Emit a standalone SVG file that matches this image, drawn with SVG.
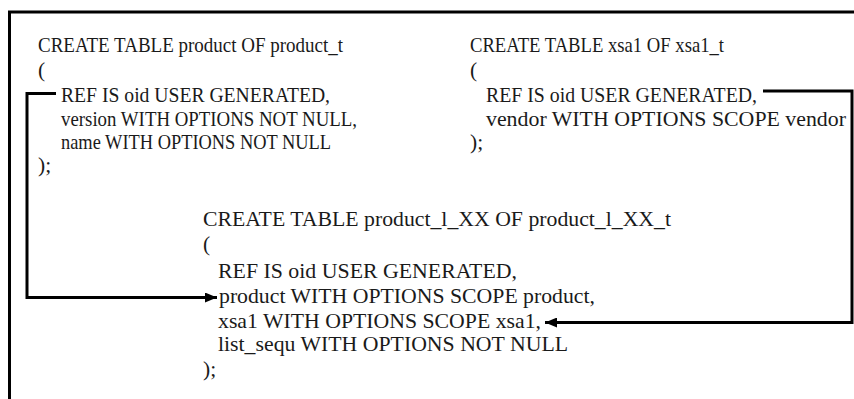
<svg xmlns="http://www.w3.org/2000/svg" width="854" height="399" viewBox="0 0 854 399">
  <style>
    text { font-family: "Liberation Serif", "Times New Roman", serif; font-size: 21.5px; fill: #1a1a1a; }
    .frame { fill: none; stroke: #000; stroke-width: 3; }
    .link { fill: none; stroke: #000; stroke-width: 3; }
  </style>
  <defs>
    <marker id="arrow" viewBox="0 0 12 10" refX="12" refY="5" markerWidth="12" markerHeight="10" markerUnits="userSpaceOnUse" orient="auto">
      <path d="M0,0 L12,5 L0,10 Z" fill="#000"/>
    </marker>
  </defs>
  <rect width="854" height="399" fill="#fff"/>
  <!-- outer frame: top and left edges -->
  <path class="frame" d="M9.5,399 V12 H854"/>

  <g id="product">
    <text x="38" y="52" textLength="305" lengthAdjust="spacingAndGlyphs">CREATE TABLE product OF product_t</text>
    <text x="38" y="77">(</text>
    <text x="61" y="102" textLength="269" lengthAdjust="spacingAndGlyphs">REF IS oid USER GENERATED,</text>
    <text x="61" y="126" textLength="296" lengthAdjust="spacingAndGlyphs">version WITH OPTIONS NOT NULL,</text>
    <text x="61" y="149" textLength="270" lengthAdjust="spacingAndGlyphs">name WITH OPTIONS NOT NULL</text>
    <text x="38" y="172">);</text>
  </g>

  <g id="xsa1">
    <text x="470" y="52" textLength="254" lengthAdjust="spacingAndGlyphs">CREATE TABLE xsa1 OF xsa1_t</text>
    <text x="470" y="77">(</text>
    <text x="486" y="102" textLength="271" lengthAdjust="spacingAndGlyphs">REF IS oid USER GENERATED,</text>
    <text x="486" y="126" textLength="360" lengthAdjust="spacingAndGlyphs">vendor WITH OPTIONS SCOPE vendor</text>
    <text x="470" y="149">);</text>
  </g>

  <g id="product_l_XX">
    <text x="203" y="226" textLength="468" lengthAdjust="spacingAndGlyphs">CREATE TABLE product_l_XX OF product_l_XX_t</text>
    <text x="203" y="251">(</text>
    <text x="218" y="278" textLength="299" lengthAdjust="spacingAndGlyphs">REF IS oid USER GENERATED,</text>
    <text x="219" y="303" textLength="376" lengthAdjust="spacingAndGlyphs">product WITH OPTIONS SCOPE product,</text>
    <text x="218" y="328" textLength="323" lengthAdjust="spacingAndGlyphs">xsa1 WITH OPTIONS SCOPE xsa1,</text>
    <text x="218" y="351" textLength="350" lengthAdjust="spacingAndGlyphs">list_sequ WITH OPTIONS NOT NULL</text>
    <text x="203" y="376">);</text>
  </g>

  <g id="connectors">
    <path class="link" d="M56,93.5 H27 V297.5 H217" marker-end="url(#arrow)"/>
    <path class="link" d="M763,91 H852 V322.5 H545" marker-end="url(#arrow)"/>
  </g>
</svg>
